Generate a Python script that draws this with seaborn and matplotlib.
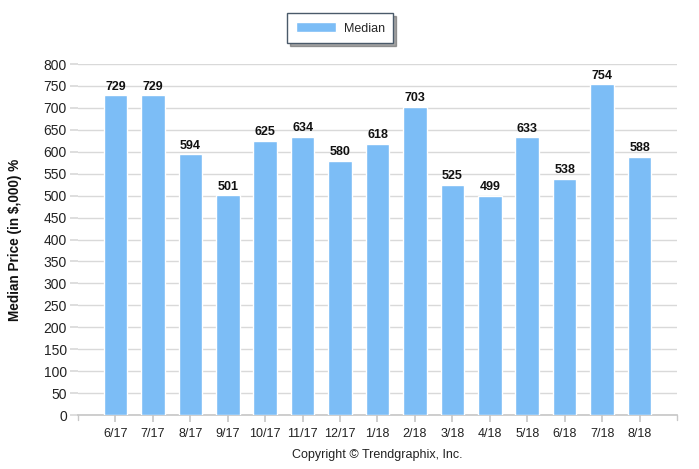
import matplotlib
matplotlib.use("Agg")
import matplotlib.pyplot as plt
import numpy as np
import pandas as pd
import seaborn as sns

months = ["6/17", "7/17", "8/17", "9/17", "10/17", "11/17", "12/17", "1/18",
          "2/18", "3/18", "4/18", "5/18", "6/18", "7/18", "8/18"]
median = [729, 729, 594, 501, 625, 634, 580, 618, 703, 525, 499, 633, 538, 754, 588]
yticks = list(range(0, 801, 50))

sns.set_theme(style="white")
plt.rcParams["font.family"] = ["Liberation Sans", "DejaVu Sans"]

df = pd.DataFrame({"month": months, "Median": median})

fig = plt.figure(figsize=(6.99, 4.69), dpi=100)
ax = fig.add_axes([0.1116, 0.1151, 0.8569, 0.7484])

bar_color = "#7CBDF6"
sns.barplot(data=df, x="month", y="Median", color=bar_color, width=0.63,
            saturation=1, ax=ax, label="Median", zorder=3)

for i, v in enumerate(median):
    ax.text(i, v + 6, str(v), ha="center", va="bottom", fontsize=9,
            fontweight="bold", color="#111111")

ax.set_xlim(-1, len(months))
ax.set_ylim(0, 800)
ax.set_yticks(yticks)
ax.yaxis.grid(True, color="#d9d9d9", linewidth=1, zorder=0)
ax.set_axisbelow(True)
for s in ["top", "right", "left"]:
    ax.spines[s].set_visible(False)
ax.spines["bottom"].set_color("#c8c8c8")
ax.tick_params(axis="y", length=6, color="#d9d9d9", labelsize=10, pad=2,
               left=True, labelcolor="#222222")
ax.tick_params(axis="x", length=5, color="#c8c8c8", labelsize=9, pad=4,
               bottom=True, labelcolor="#222222")
ax.set_xticks(list(range(len(months))))
ax.set_xticklabels(months)
ax.set_xlabel("")
ax.set_ylabel("Median Price (in $,000) %", fontsize=9.8, fontweight="bold",
              color="#111111")
ax.yaxis.set_label_coords(-0.093, 0.5)
# tick at the axis ends
ax.axvline(-1, ymin=-0.015, ymax=0, color="#c8c8c8", lw=1, clip_on=False)
ax.axvline(len(months), ymin=-0.015, ymax=0, color="#c8c8c8", lw=1, clip_on=False)

leg = ax.legend(loc="upper center", bbox_to_anchor=(0.487, 0.985),
                bbox_transform=fig.transFigure, frameon=True, fancybox=False,
                shadow=True, fontsize=9, handlelength=3.2, handleheight=0.9,
                borderpad=0.7, handletextpad=0.6)
leg.get_frame().set_edgecolor("#4a5a6a")
leg.get_frame().set_linewidth(1)

fig.text(0.54, 0.03, "Copyright \u00a9 Trendgraphix, Inc.", ha="center",
         va="center", fontsize=9, color="#222222")

fig.savefig("out.png", dpi=100)
